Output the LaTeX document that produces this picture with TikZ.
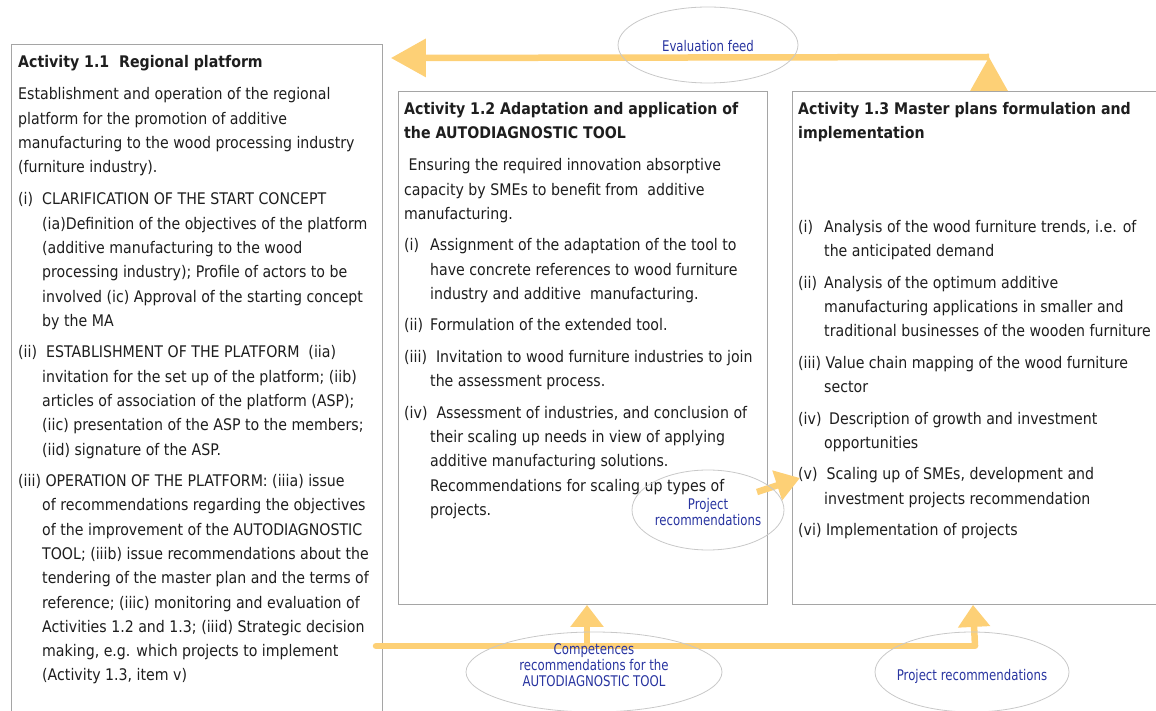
\documentclass[tikz,border=0pt]{standalone}
\usepackage{fontspec}
\setmainfont{DejaVu Sans}[FakeStretch=0.885]
\newfontfamily\labfont{DejaVu Sans}[FakeStretch=0.80]
\usetikzlibrary{shapes.geometric,arrows.meta,calc}
\definecolor{ay}{RGB}{253,208,118}
\definecolor{bx}{RGB}{165,165,165}
\definecolor{tx}{RGB}{30,30,30}
\definecolor{lb}{RGB}{40,52,160}
\definecolor{el}{RGB}{200,200,200}
\newcommand\ia[1]{\makebox[24pt][l]{#1}}
\newcommand\ib[1]{\makebox[26pt][l]{#1}}
\newcommand\na{\hspace*{24pt}}
\newcommand\nb{\hspace*{26pt}}
\tikzset{
  boxst/.style={draw=bx, line width=0.9pt, rectangle, inner sep=0, anchor=north west},
  txt/.style={anchor=base west, inner sep=0, text=tx, font=\fontsize{16}{24.3}\selectfont},
  yline/.style={draw=ay, line width=6.5pt},
  ell/.style={ellipse, draw=el, line width=0.8pt, inner sep=0},
  lbl/.style={text=lb, align=center, inner sep=0, font=\labfont\fontsize{14.7}{15.8}\selectfont},
}
\begin{document}
\begin{tikzpicture}[x=1pt,y=-1pt]
\useasboundingbox (0,0) rectangle (1156,711);
% boxes
\node[boxst, minimum width=371, minimum height=700] (a11) at (11,44) {};
\node[boxst, minimum width=369, minimum height=513] (a12) at (398,91) {};
\node[boxst, minimum width=380, minimum height=513] (a13) at (792,91) {};
% texts
\node[txt] (t11) at (18,68) {\begin{minipage}[t]{400pt}\raggedright
\textbf{Activity 1.1\ \ Regional platform}\\[7.7pt]
Establishment and operation of the regional\\
platform for the promotion of additive\\
manufacturing to the wood processing industry\\
(furniture industry).\\[7.7pt]
\ia{(i)}CLARIFICATION OF THE START CONCEPT\\
\na(ia)Definition of the objectives of the platform\\
\na(additive manufacturing to the wood\\
\na processing industry); Profile of actors to be\\
\na involved (ic) Approval of the starting concept\\
\na by the MA\\[7.2pt]
(ii)\ \ ESTABLISHMENT OF THE PLATFORM\ \ (iia)\\
\na invitation for the set up of the platform; (iib)\\
\na articles of association of the platform (ASP);\\
\na(iic) presentation of the ASP to the members;\\
\na(iid) signature of the ASP.\\[7.2pt]
(iii) OPERATION OF THE PLATFORM: (iiia) issue\\
\na of recommendations regarding the objectives\\
\na of the improvement of the AUTODIAGNOSTIC\\
\na TOOL; (iiib) issue recommendations about the\\
\na tendering of the master plan and the terms of\\
\na reference; (iiic) monitoring and evaluation of\\
\na Activities 1.2 and 1.3; (iiid) Strategic decision\\
\na making, e.g. which projects to implement\\
\na(Activity 1.3, item v)
\end{minipage}};
\node[txt] (t12) at (404,114.5) {\begin{minipage}[t]{400pt}\raggedright
\textbf{Activity 1.2 Adaptation and application of}\\
\textbf{the AUTODIAGNOSTIC TOOL}\\[7.7pt]
\hspace*{4.5pt}Ensuring the required innovation absorptive\\
capacity by SMEs to benefit from\ \ additive\\
manufacturing.\\[7.2pt]
\ib{(i)}Assignment of the adaptation of the tool to\\
\nb have concrete references to wood furniture\\
\nb industry and additive\ \ manufacturing.\\[7.2pt]
\ib{(ii)}Formulation of the extended tool.\\[7.2pt]
(iii)\ \ Invitation to wood furniture industries to join\\
\nb the assessment process.\\[7.2pt]
(iv)\ \ Assessment of industries, and conclusion of\\
\nb their scaling up needs in view of applying\\
\nb additive manufacturing solutions.\\
\nb Recommendations for scaling up types of\\
\nb projects.
\end{minipage}};
\node[txt] (t13) at (798,114.5) {\begin{minipage}[t]{400pt}\raggedright
\textbf{Activity 1.3 Master plans formulation and}\\
\textbf{implementation}\\[69.4pt]
\ib{(i)}Analysis of the wood furniture trends, i.e. of\\
\nb the anticipated demand\\[7.2pt]
\ib{(ii)}Analysis of the optimum additive\\
\nb manufacturing applications in smaller and\\
\nb traditional businesses of the wooden furniture\\[7.2pt]
(iii) Value chain mapping of the wood furniture\\
\nb sector\\[7.2pt]
\makebox[31pt][l]{(iv)}Description of growth and investment\\
\nb opportunities\\[7.2pt]
(v)\ \ Scaling up of SMEs, development and\\
\nb investment projects recommendation\\[7.2pt]
(vi) Implementation of projects
\end{minipage}};
% connector coordinates
\path (a13.north west) ++(197,0) coordinate (c13top);
\path (a13.north west) ++(197,-34) coordinate (fbend);
\path (a11.north east) ++(8,14) coordinate (c11in);
\path (a12.south west) ++(189,0) coordinate (c12bot);
\path (a13.south west) ++(181,0) coordinate (c13bot);
\coordinate (bstart) at (376,646);
\coordinate (bj1) at (587,646);
\coordinate (bj2) at (975,646);
\coordinate (pstart) at (757,492);
\path (a13.north west) ++(8,387) coordinate (pend);
% yellow arrows
\draw[yline, -{Triangle[length=35pt,width=37pt]}] (fbend) -- (c11in);
\draw[yline, -{Triangle[length=34pt,width=36pt]}] (c13top) -- (fbend);
\draw[yline, line cap=round] (bstart) -- (bj2);
\draw[yline, -{Triangle[length=22pt,width=32pt]}] (bj1) -- (c12bot);
\draw[yline, -{Triangle[length=22pt,width=31pt]}] (bj2) -- (c13bot);
\draw[yline, -{Triangle[length=24pt,width=30pt]}] (pstart) -- (pend);
% ellipses and labels
\node[ell, minimum width=180, minimum height=76] (eeval) at (708,45) {};
\node[lbl] (leval) at (708,46) {Evaluation feed};
\node[ell, minimum width=152, minimum height=80] (eproj) at (708,510) {};
\node[lbl] (lproj) at (708,512) {Project\\recommendations};
\node[ell, minimum width=256, minimum height=80] (ecomp) at (594,672) {};
\node[lbl] (lcomp) at (594,665) {Competences\\recommendations for the\\AUTODIAGNOSTIC TOOL};
\node[ell, minimum width=194, minimum height=80] (eproj2) at (972,672) {};
\node[lbl] (lproj2) at (972,676) {Project recommendations};
\end{tikzpicture}
\end{document}
